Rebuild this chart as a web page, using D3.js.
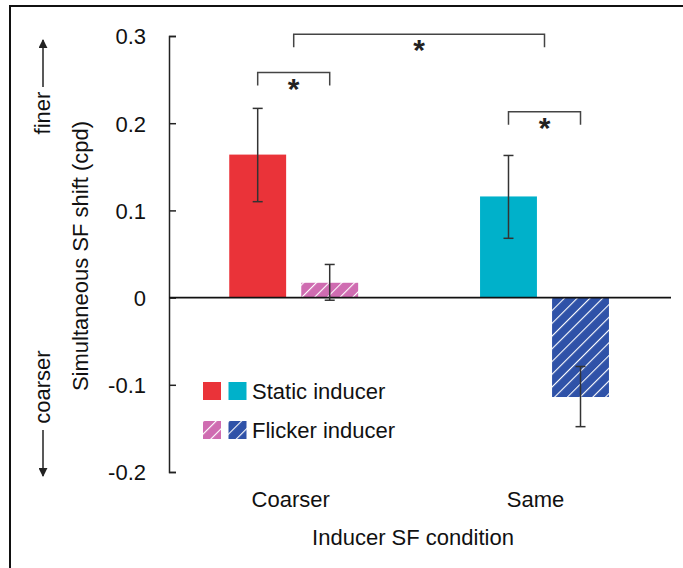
<!DOCTYPE html>
<html>
<head>
<meta charset="utf-8">
<script src="https://cdn.jsdelivr.net/npm/d3@7"></script>
<style>
  body { margin: 0; background: #fff; }
  svg { display: block; font-family: "Liberation Sans", Arial, sans-serif; }
  .axis path, .axis line { stroke: #222; stroke-width: 1.5; }
  .axis text { font-size: 22px; fill: #111; }
</style>
</head>
<body>
<svg width="683" height="568"></svg>
<script>
// data
const conditions = ["Coarser", "Same"];
const inducers = ["Static", "Flicker"];
const means = [
  [0.164, 0.017],   // Coarser: static, flicker
  [0.116, -0.114]   // Same: static, flicker
];
const errHigh = [
  [0.217, 0.038],
  [0.163, -0.079]
];
const errLow = [
  [0.110, -0.003],
  [0.068, -0.148]
];
const barColors = [
  ["#ea3339", "#cf6cb1"],
  ["#00b1ca", "#2f52a8"]
];
const yTicks = [0.3, 0.2, 0.1, 0, -0.1, -0.2];
const legendItems = ["Static inducer", "Flicker inducer"];

const svg = d3.select("svg");
const FS = 22;

// frame
svg.append("rect")
  .attr("x", 10).attr("y", 6)
  .attr("width", 720).attr("height", 620)
  .attr("fill", "none").attr("stroke", "#111").attr("stroke-width", 2);

const y = d3.scaleLinear().domain([-0.2, 0.3]).range([472, 36]);
const x0 = d3.scaleBand().domain(conditions).range([168.3, 669.9]).paddingInner(0.486).paddingOuter(0.243);
const x1 = d3.scaleBand().domain(inducers).range([0, x0.bandwidth()]).paddingInner(0.21);

// hatch patterns
const defs = svg.append("defs");
function hatch(id, color) {
  const p = defs.append("pattern")
    .attr("id", id)
    .attr("patternUnits", "userSpaceOnUse")
    .attr("width", 9).attr("height", 9)
    .attr("patternTransform", "rotate(45)");
  p.append("rect").attr("width", 9).attr("height", 9).attr("fill", color);
  p.append("line").attr("x1", 0).attr("y1", 0).attr("x2", 0).attr("y2", 9)
    .attr("stroke", "#fff").attr("stroke-width", 2.2);
}
hatch("hatch0", barColors[0][1]);
hatch("hatch1", barColors[1][1]);

function fillFor(ci, si) {
  return si === 0 ? barColors[ci][0] : "url(#hatch" + ci + ")";
}

// y axis, ticks pointing inward
const yAxis = svg.append("g")
  .attr("class", "axis")
  .attr("transform", "translate(169,0)")
  .call(d3.axisLeft(y).tickValues(yTicks).tickSize(-7).tickSizeOuter(-7).tickPadding(23)
    .tickFormat(d => d === 0 ? "0" : d.toFixed(1)));
yAxis.selectAll("text").attr("dy", "0.36em");

// bars
const groups = svg.append("g").selectAll("g")
  .data(conditions)
  .join("g")
  .attr("transform", d => `translate(${x0(d)},0)`);

groups.selectAll("rect")
  .data((c, ci) => inducers.map((s, si) => ({ c, ci, s, si, v: means[ci][si] })))
  .join("rect")
  .attr("x", d => x1(d.s))
  .attr("width", x1.bandwidth())
  .attr("y", d => y(Math.max(0, d.v)))
  .attr("height", d => Math.abs(y(d.v) - y(0)))
  .attr("fill", d => fillFor(d.ci, d.si));

// zero line
svg.append("line")
  .attr("x1", 169).attr("x2", 671)
  .attr("y1", y(0)).attr("y2", y(0))
  .attr("stroke", "#111").attr("stroke-width", 1.8);

// error bars
const errs = [];
conditions.forEach((c, ci) => inducers.forEach((s, si) => {
  errs.push({ cx: x0(c) + x1(s) + x1.bandwidth() / 2, hi: errHigh[ci][si], lo: errLow[ci][si] });
}));
const eb = svg.append("g").attr("stroke", "#333").attr("stroke-width", 1.5);
errs.forEach(e => {
  eb.append("line").attr("x1", e.cx).attr("x2", e.cx).attr("y1", y(e.hi)).attr("y2", y(e.lo));
  eb.append("line").attr("x1", e.cx - 5).attr("x2", e.cx + 5).attr("y1", y(e.hi)).attr("y2", y(e.hi));
  eb.append("line").attr("x1", e.cx - 5).attr("x2", e.cx + 5).attr("y1", y(e.lo)).attr("y2", y(e.lo));
});

// significance brackets
const brackets = [
  { a: x0("Coarser") + x0.bandwidth() / 2, b: x0("Same") + x0.bandwidth() / 2, top: 0.302, leg: 13, starX: 419 },
  { a: errs[0].cx, b: errs[1].cx, top: 0.258, leg: 13 },
  { a: errs[2].cx, b: errs[3].cx, top: 0.213, leg: 13 }
];
const br = svg.append("g");
brackets.forEach(d => {
  const yt = y(d.top);
  br.append("path")
    .attr("d", `M${d.a},${yt + d.leg}V${yt}H${d.b}V${yt + d.leg}`)
    .attr("fill", "none").attr("stroke", "#444").attr("stroke-width", 1.5);
  br.append("text")
    .attr("x", d.starX || (d.a + d.b) / 2)
    .attr("y", yt + 26)
    .attr("text-anchor", "middle")
    .attr("font-size", 30).attr("font-weight", "bold").attr("fill", "#222")
    .text("*");
});

// x category labels
svg.append("g").selectAll("text")
  .data(conditions)
  .join("text")
  .attr("x", (d, i) => x0(d) + x0.bandwidth() / 2 + (i === 0 ? -3 : -9))
  .attr("y", 507)
  .attr("text-anchor", "middle")
  .attr("font-size", FS).attr("fill", "#111")
  .text(d => d);

// axis titles
svg.append("text")
  .attr("x", 413).attr("y", 545)
  .attr("text-anchor", "middle")
  .attr("font-size", FS).attr("fill", "#111")
  .text("Inducer SF condition");

svg.append("text")
  .attr("transform", "translate(88,256) rotate(-90)")
  .attr("text-anchor", "middle")
  .attr("font-size", FS).attr("fill", "#111")
  .text("Simultaneous SF shift (cpd)");

// direction labels with arrows
defs.append("marker")
  .attr("id", "arrow")
  .attr("viewBox", "0 0 10 10")
  .attr("refX", 9).attr("refY", 5)
  .attr("markerWidth", 6).attr("markerHeight", 6)
  .attr("orient", "auto")
  .append("path").attr("d", "M0,0L10,5L0,10Z").attr("fill", "#222");

svg.append("text")
  .attr("transform", "translate(50,113) rotate(-90)")
  .attr("text-anchor", "middle")
  .attr("font-size", FS).attr("fill", "#111")
  .text("finer");
svg.append("line")
  .attr("x1", 43).attr("x2", 43).attr("y1", 87).attr("y2", 40)
  .attr("stroke", "#222").attr("stroke-width", 1.5)
  .attr("marker-end", "url(#arrow)");

svg.append("text")
  .attr("transform", "translate(50,387) rotate(-90)")
  .attr("text-anchor", "middle")
  .attr("font-size", FS).attr("fill", "#111")
  .text("coarser");
svg.append("line")
  .attr("x1", 43).attr("x2", 43).attr("y1", 430).attr("y2", 476)
  .attr("stroke", "#222").attr("stroke-width", 1.5)
  .attr("marker-end", "url(#arrow)");

// legend
const legend = svg.append("g");
legendItems.forEach((label, si) => {
  const ly = 382 + si * 39;
  conditions.forEach((c, ci) => {
    legend.append("rect")
      .attr("x", 203 + ci * 25.5).attr("y", ly)
      .attr("width", 18).attr("height", 18)
      .attr("fill", fillFor(ci, si));
  });
  legend.append("text")
    .attr("x", 252).attr("y", ly + 17)
    .attr("font-size", FS).attr("fill", "#111")
    .text(label);
});
</script>
</body>
</html>
